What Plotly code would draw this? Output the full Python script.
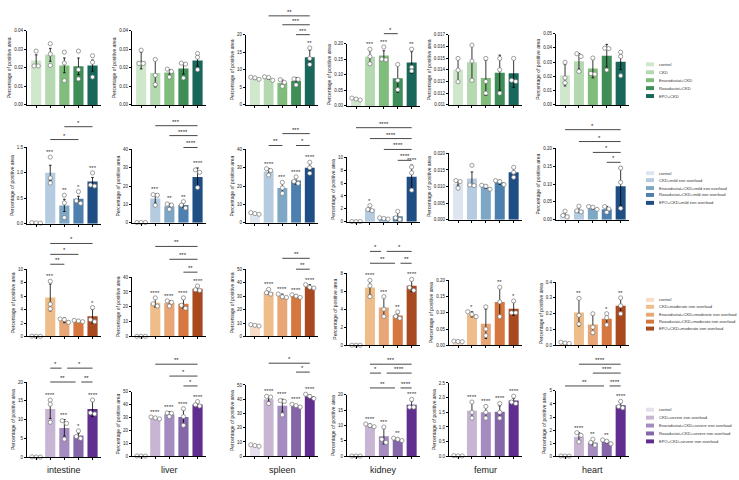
import numpy as np
import plotly.graph_objects as go

W, H = 739, 480
FONT = "Liberation Sans, Arial, sans-serif"

# ---------------- DATA ----------------
organs = ["intestine", "liver", "spleen", "kidney", "femur", "heart"]

groups = [
    ["control", "CKD", "Enarodustat+CKD", "Roxadustat+CKD", "EPO+CKD"],
    ["control", "CKD+mild iron overload", "Enarodustat+CKD+mild iron overload",
     "Roxadustat+CKD+mild iron overload", "EPO+CKD+mild iron overload"],
    ["control", "CKD+moderate iron overload", "Enarodustat+CKD+moderate iron overload",
     "Roxadustat+CKD+moderate iron overload", "EPO+CKD+moderate iron overload"],
    ["control", "CKD+severe iron overload", "Enarodustat+CKD+severe iron overload",
     "Roxadustat+CKD+severe iron overload", "EPO+CKD+severe iron overload"],
]

# Row 1: CKD
ckd_mean = [
    [0.024, 0.027, 0.0213, 0.0208, 0.0212],
    [0.0239, 0.0172, 0.0175, 0.0196, 0.0239],
    [7.6, 7.6, 6.3, 6.8, 13.6],
    [0.022, 0.158, 0.162, 0.089, 0.139],
    [0.0140, 0.01465, 0.0133, 0.01375, 0.0137],
    [0.0208, 0.0306, 0.0255, 0.0345, 0.0303],
]
ckd_sd = [
    [0.003, 0.0035, 0.004, 0.0045, 0.003],
    [0.0045, 0.0075, 0.0015, 0.003, 0.003],
    [0.3, 0.3, 0.8, 1.0, 2.0],
    [0.003, 0.02, 0.015, 0.045, 0.035],
    [0.001, 0.0015, 0.0015, 0.0015, 0.0012],
    [0.0075, 0.0055, 0.0065, 0.008, 0.0055],
]
ckd_pts = [
    [[0.029, 0.021, 0.021], [0.033, 0.0274, 0.0213], [0.0284, 0.0226, 0.0131], [0.029, 0.019, 0.014], [0.0265, 0.023, 0.015]],
    [[0.0295, 0.0223, 0.0223], [0.0245, 0.016, 0.011], [0.0193, 0.018, 0.015], [0.0225, 0.0220, 0.0145], [0.0277, 0.0257, 0.019]],
    [[7.9, 7.7, 7.3], [8.0, 7.8, 7.0], [7.2, 6.4, 5.3], [7.4, 7.3, 5.7], [16.2, 13.2, 11.5]],
    [[0.025, 0.022, 0.019], [0.182, 0.158, 0.135], [0.189, 0.150, 0.148], [0.133, 0.082, 0.052], [0.182, 0.124, 0.112]],
    [[0.01497, 0.01397, 0.01298], [0.0161, 0.01474, 0.0131], [0.01497, 0.0130, 0.0120], [0.01497, 0.0140, 0.0120], [0.01497, 0.0131, 0.0130]],
    [[0.0299, 0.019, 0.0155], [0.0359, 0.034, 0.0235], [0.0329, 0.022, 0.0216], [0.0398, 0.0395, 0.0245], [0.037, 0.034, 0.0205]],
]
ckd_stars = [
    ["", "", "", "", ""], ["", "", "", "", ""], ["", "", "", "", "**"],
    ["", "***", "***", "", "**"], ["", "", "", "", ""], ["", "", "", "", ""],
]
ckd_brackets = [[], [], [(1, 4, "**"), (2, 4, "***"), (3, 4, "***")], [(2, 3, "*")], [], []]

# Row 2: mild iron overload
mild_mean = [
    [0.015, 1.0, 0.36, 0.49, 0.83],
    [0.1, 13.2, 9.0, 9.7, 24.9],
    [5.0, 28.0, 19.0, 23.0, 30.0],
    [0.02, 2.0, 0.5, 0.85, 7.0],
    [0.0109, 0.0124, 0.0099, 0.0113, 0.0143],
    [0.015, 0.028, 0.033, 0.0293, 0.094],
]
mild_sd = [
    [0.005, 0.15, 0.12, 0.05, 0.08],
    [0.05, 2.5, 1.5, 1.5, 5.0],
    [0.3, 1.5, 3.0, 2.0, 2.5],
    [0.01, 0.35, 0.15, 0.6, 1.8],
    [0.0005, 0.002, 0.0005, 0.0006, 0.0015],
    [0.005, 0.008, 0.003, 0.008, 0.055],
]
mild_pts = [
    [[0.02, 0.015, 0.01], [1.31, 0.9, 0.8], [0.56, 0.41, 0.12], [0.63, 0.45, 0.4], [1.0, 0.76, 0.74]],
    [[0.1, 0.1, 0.1], [15.3, 15.0, 9.5], [10.2, 9.6, 7.3], [11.5, 9.6, 8.0], [28.8, 27.5, 19.2]],
    [[5.5, 5.0, 4.6], [29.5, 28.5, 26.0], [22.0, 19.0, 16.0], [25.0, 22.5, 21.5], [33.0, 30.0, 27.0]],
    [[0.02, 0.02, 0.02], [2.5, 1.9, 1.7], [0.6, 0.5, 0.4], [1.6, 0.6, 0.35], [8.5, 7.6, 4.9]],
    [[0.0118, 0.0115, 0.0095], [0.0164, 0.0105, 0.0103], [0.0104, 0.0101, 0.0092], [0.0118, 0.0115, 0.0106], [0.0158, 0.0143, 0.0128]],
    [[0.024, 0.012, 0.008], [0.038, 0.025, 0.022], [0.037, 0.035, 0.029], [0.037, 0.030, 0.021], [0.145, 0.105, 0.032]],
]
mild_stars = [
    ["", "***", "**", "*", "***"], ["", "***", "**", "**", "****"], ["", "****", "***", "****", "****"],
    ["", "*", "", "", "****"], ["", "", "", "", ""], ["", "", "", "", ""],
]
mild_brackets = [
    [(2, 4, "*"), (1, 3, "*")],
    [(1, 4, "***"), (2, 4, "****"), (3, 4, "****")],
    [(2, 4, "***"), (1, 2, "**"), (3, 4, "*")],
    [(0, 4, "****"), (1, 4, "****"), (2, 4, "****"), (3, 4, "****")],
    [],
    [(0, 4, "*"), (1, 4, "*"), (2, 4, "*"), (3, 4, "*")],
]

# Row 3: moderate iron overload
mod_mean = [
    [0.02, 5.8, 2.4, 2.3, 3.0],
    [0.1, 22.8, 22.5, 22.0, 32.2],
    [8.3, 33.0, 30.0, 30.0, 37.0],
    [0.02, 6.4, 4.2, 3.3, 6.6],
    [0.012, 0.095, 0.066, 0.133, 0.112],
    [0.015, 0.207, 0.132, 0.168, 0.25],
]
mod_sd = [
    [0.01, 2.0, 0.35, 0.1, 1.0],
    [0.05, 3.0, 1.5, 3.0, 1.5],
    [0.5, 1.5, 1.5, 1.0, 1.5],
    [0.01, 0.8, 1.1, 0.25, 0.65],
    [0.002, 0.008, 0.045, 0.045, 0.02],
    [0.005, 0.085, 0.06, 0.03, 0.045],
]
mod_pts = [
    [[0.05, 0.03, 0.02], [8.2, 4.8, 4.1], [2.6, 2.5, 2.1], [2.4, 2.3, 2.2], [4.3, 2.5, 2.2]],
    [[0.1, 0.1, 0.1], [26.0, 22.0, 20.5], [24.0, 23.0, 20.5], [26.0, 21.0, 19.0], [34.0, 31.5, 31.0]],
    [[8.8, 8.3, 7.8], [35.0, 32.5, 31.5], [31.5, 29.5, 29.0], [31.0, 30.0, 29.0], [38.5, 36.5, 36.0]],
    [[0.02, 0.02, 0.02], [7.2, 6.6, 5.4], [5.4, 4.0, 3.2], [3.7, 3.2, 3.0], [7.3, 6.4, 6.1]],
    [[0.013, 0.012, 0.011], [0.103, 0.095, 0.088], [0.118, 0.05, 0.03], [0.178, 0.133, 0.088], [0.136, 0.1, 0.1]],
    [[0.02, 0.015, 0.012], [0.297, 0.19, 0.135], [0.2, 0.115, 0.08], [0.2, 0.175, 0.13], [0.3, 0.25, 0.2]],
]
mod_stars = [
    ["", "***", "", "", "*"], ["", "****", "****", "****", "****"], ["", "****", "****", "****", "****"],
    ["", "****", "***", "**", "****"], ["", "*", "", "**", "*"], ["", "**", "", "*", "**"],
]
mod_brackets = [
    [(1, 4, "*"), (1, 3, "*"), (1, 2, "**")],
    [(1, 4, "**"), (2, 4, "***"), (3, 4, "**")],
    [(2, 4, "**"), (3, 4, "**")],
    [(1, 2, "*"), (2, 4, "*"), (1, 3, "**"), (3, 4, "**")],
    [],
    [],
]

# Row 4: severe iron overload
sev_mean = [
    [0.05, 12.8, 7.8, 5.8, 12.8],
    [0.1, 29.8, 32.6, 30.5, 40.3],
    [7.5, 40.0, 35.5, 35.5, 42.0],
    [0.05, 10.0, 6.5, 5.5, 16.8],
    [0.01, 1.55, 1.5, 1.52, 1.9],
    [0.01, 1.5, 1.06, 1.11, 3.9],
]
sev_sd = [
    [0.05, 2.5, 2.2, 0.6, 2.0],
    [0.1, 0.8, 2.0, 5.5, 1.5],
    [0.5, 1.5, 4.5, 0.8, 1.2],
    [0.05, 0.5, 2.5, 0.4, 1.2],
    [0.005, 0.28, 0.2, 0.2, 0.08],
    [0.01, 0.3, 0.2, 0.1, 0.2],
]
sev_pts = [
    [[0.1, 0.05, 0.02], [15.2, 14.1, 9.3], [9.7, 9.0, 4.8], [7.0, 5.5, 5.0], [15.2, 11.8, 11.5]],
    [[0.2, 0.1, 0.1], [30.5, 29.8, 29.0], [33.6, 33.4, 30.8], [36.9, 30.8, 24.0], [42.5, 40.0, 39.0]],
    [[8.0, 7.5, 7.0], [42.0, 41.5, 37.0], [39.0, 38.5, 29.0], [36.5, 35.5, 34.5], [43.5, 42.0, 40.5]],
    [[0.05, 0.05, 0.05], [10.5, 10.0, 9.6], [9.5, 5.5, 4.5], [5.9, 5.5, 5.1], [18.5, 16.0, 16.0]],
    [[0.02, 0.01, 0.01], [1.85, 1.5, 1.3], [1.7, 1.5, 1.3], [1.8, 1.5, 1.3], [2.05, 1.85, 1.8]],
    [[0.02, 0.01, 0.01], [1.8, 1.6, 1.1], [1.3, 1.05, 0.85], [1.25, 1.15, 0.95], [4.2, 3.8, 3.7]],
]
sev_stars = [
    ["", "****", "***", "*", "****"], ["", "****", "****", "****", "****"], ["", "****", "****", "****", "****"],
    ["", "****", "***", "**", "****"], ["", "****", "****", "****", "****"], ["", "****", "**", "**", "****"],
]
sev_brackets = [
    [(1, 2, "*"), (2, 4, "*"), (1, 3, "**"), (3, 4, "**")],
    [(1, 4, "**"), (2, 4, "*"), (3, 4, "*")],
    [(1, 4, "*"), (3, 4, "*")],
    [(1, 4, "***"), (1, 2, "*"), (2, 4, "****"), (1, 3, "**"), (3, 4, "****")],
    [],
    [(1, 4, "****"), (2, 4, "****"), (0, 3, "**"), (3, 4, "****")],
]

# y-axis scales (low, high, step, label format) per row / organ
yscales = [
    [(0, 0.04, 0.01, ".2f"), (0, 0.04, 0.01, ".2f"), (0, 20, 5, ".0f"), (0, 0.20, 0.05, ".2f"), (0.011, 0.017, 0.001, ".3f"), (0, 0.05, 0.01, ".2f")],
    [(0, 1.5, 0.5, ".1f"), (0, 40, 10, ".0f"), (0, 40, 10, ".0f"), (0, 10, 2, ".0f"), (0, 0.020, 0.005, ".3f"), (0, 0.20, 0.05, ".2f")],
    [(0, 10, 2, ".0f"), (0, 40, 10, ".0f"), (0, 50, 10, ".0f"), (0, 8, 2, ".0f"), (0, 0.20, 0.05, ".2f"), (0, 0.4, 0.1, ".1f")],
    [(0, 20, 5, ".0f"), (0, 50, 10, ".0f"), (0, 50, 10, ".0f"), (0, 20, 5, ".0f"), (0, 2.5, 0.5, ".1f"), (0, 5, 1, ".0f")],
]

rows_mean = [ckd_mean, mild_mean, mod_mean, sev_mean]
rows_sd = [ckd_sd, mild_sd, mod_sd, sev_sd]
rows_pts = [ckd_pts, mild_pts, mod_pts, sev_pts]
rows_stars = [ckd_stars, mild_stars, mod_stars, sev_stars]
rows_brackets = [ckd_brackets, mild_brackets, mod_brackets, sev_brackets]

# ---------------- LAYOUT / STYLE ----------------
colors = [
    ["#cfe8cc", "#b4d8b0", "#80bd7c", "#3f8d57", "#19665a"],
    ["#dde5ef", "#b5cbe0", "#7ea7c6", "#4d80ae", "#1f4e84"],
    ["#f7dcc6", "#efbd89", "#e8a676", "#d5773f", "#a8491f"],
    ["#e8dfec", "#c8b5d4", "#a58cc0", "#8466a9", "#5f2e8f"],
]
col_x = [(27, 101), (132, 206), (246, 318), (347, 420), (449, 522), (556, 629)]
row_y = [
    [(29, 104), (29, 104), (33, 104), (42, 105), (33, 104), (32, 104)],
    [(147, 224), (149, 223), (149, 223), (157, 222), (153, 220), (148, 220)],
    [(270, 338), (278, 338), (270, 338), (274, 347), (281, 347), (283, 347)],
    [(384, 460), (394, 459), (387, 459), (397, 459), (385, 459), (393, 459)],
]
bracket_y = [
    [[], [], [14, 23, 33], [32], [], []],
    [[126, 139], [125, 135, 147], [133, 145, 145], [127, 138, 149, 160], [], [129, 141, 152, 162]],
    [[244, 255, 265], [247, 260, 273], [259, 270], [252, 252, 264, 264], [], []],
    [[370, 370, 384, 384], [366, 378, 388], [365, 374], [366, 375, 375, 390, 390], [], [366, 375, 388, 388]],
]
legend_y = [[63, 71, 79, 87, 95], [173, 180, 188, 195, 203], [301, 308, 316, 323, 330], [412, 420, 428, 436, 444]]
XR = [-0.65, 4.6]
BARW = 0.72


def px_x(p):
    return p / W


def px_y(p):
    return (H - p) / H


fig = go.Figure()
layout = dict(width=W, height=H, margin=dict(l=0, r=0, t=0, b=0),
              paper_bgcolor="white", plot_bgcolor="white", showlegend=False,
              font=dict(family=FONT, color="#222"))
shapes, annots = [], []

for r in range(4):
    for c in range(6):
        n = r * 6 + c + 1
        xa = "x" if n == 1 else f"x{n}"
        ya = "y" if n == 1 else f"y{n}"
        xk = "xaxis" if n == 1 else f"xaxis{n}"
        yk = "yaxis" if n == 1 else f"yaxis{n}"
        x0p, x1p = col_x[c]
        topp, basep = row_y[r][c]
        lo, hi, step, fmt = yscales[r][c]
        tv = np.round(np.arange(lo, hi + step / 2, step), 6)
        layout[xk] = dict(domain=[px_x(x0p), px_x(x1p)], range=XR, anchor=ya,
                          tickvals=list(range(5)), ticktext=[""] * 5, ticks="outside",
                          ticklen=2, tickwidth=0.8, tickcolor="black", showline=True,
                          linecolor="black", linewidth=1, showgrid=False, zeroline=False,
                          fixedrange=True)
        layout[yk] = dict(domain=[px_y(basep), px_y(topp)], range=[lo, hi], anchor=xa,
                          tickvals=list(tv), ticktext=[format(v, fmt) for v in tv],
                          ticks="outside", ticklen=2, tickwidth=0.8, tickcolor="black",
                          tickfont=dict(size=4.5, color="#222"), showline=True,
                          linecolor="black", linewidth=1, showgrid=False, zeroline=False,
                          fixedrange=True,
                          title=dict(text="Percentage of positive area",
                                     font=dict(size=5, color="#222"), standoff=2))
        means = rows_mean[r][c]
        sds = rows_sd[r][c]
        fig.add_trace(go.Bar(x=list(range(5)), y=means, width=BARW,
                             marker=dict(color=colors[r], line=dict(width=0)),
                             error_y=dict(type="data", array=sds, color="black",
                                          thickness=0.8, width=1.3),
                             xaxis=xa, yaxis=ya, hoverinfo="skip"))
        # scatter points with simple beeswarm offsets
        pxunit = (basep - topp) / (hi - lo)
        xs, ys = [], []
        for i, pts in enumerate(rows_pts[r][c]):
            sp = sorted(pts, reverse=True)
            clusters = [[sp[0]]]
            for v in sp[1:]:
                if abs(clusters[-1][-1] - v) * pxunit < 3.2:
                    clusters[-1].append(v)
                else:
                    clusters.append([v])
            for cl in clusters:
                k = len(cl)
                offs = [(j - (k - 1) / 2) * 0.3 for j in range(k)]
                for o, v in zip(offs, cl):
                    xs.append(i + o)
                    ys.append(v)
        fig.add_trace(go.Scatter(x=xs, y=ys, mode="markers", xaxis=xa, yaxis=ya,
                                 marker=dict(symbol="circle", size=4.2, color="white",
                                             line=dict(color="#777", width=0.7)),
                                 hoverinfo="skip", cliponaxis=False))
        # stars over bars
        for i, s in enumerate(rows_stars[r][c]):
            if not s:
                continue
            top = max(means[i] + sds[i], max(rows_pts[r][c][i]))
            annots.append(dict(x=i, y=top, xref=xa, yref=ya, text=s, showarrow=False,
                               xanchor="center", yanchor="bottom", yshift=0,
                               font=dict(size=6, color="#333")))
        # brackets
        br = rows_brackets[r][c]
        for b, (i, j, lab) in enumerate(br):
            yp = bracket_y[r][c][b]
            a0, a1 = float(i), float(j)
            for b2, (i2, j2, _) in enumerate(br):
                if b2 != b and bracket_y[r][c][b2] == yp:
                    if j2 == i:
                        a0 += 0.2
                    if i2 == j:
                        a1 -= 0.2
            shapes.append(dict(type="line", xref=xa, yref="paper", x0=a0, x1=a1,
                               y0=px_y(yp), y1=px_y(yp), line=dict(color="#333", width=0.9)))
            annots.append(dict(x=(a0 + a1) / 2, y=px_y(yp), xref=xa, yref="paper", text=lab,
                               showarrow=False, xanchor="center", yanchor="bottom", yshift=-1,
                               font=dict(size=6, color="#222")))
        if r == 3:
            annots.append(dict(x=px_x((x0p + x1p) / 2), y=px_y(473), xref="paper", yref="paper",
                               text=organs[c], showarrow=False, xanchor="center",
                               yanchor="middle", font=dict(size=9, color="#222")))
    # legend
    for k in range(5):
        yc = legend_y[r][k]
        shapes.append(dict(type="rect", xref="paper", yref="paper", x0=px_x(646), x1=px_x(654),
                           y0=px_y(yc + 2), y1=px_y(yc - 2), fillcolor=colors[r][k],
                           line=dict(width=0)))
        annots.append(dict(x=px_x(657), y=px_y(yc), xref="paper", yref="paper",
                           text=groups[r][k], showarrow=False, xanchor="left",
                           yanchor="middle", font=dict(size=4.1, color="#333")))

layout["shapes"] = shapes
layout["annotations"] = annots
fig.update_layout(**layout)
fig.write_html("out.html")
